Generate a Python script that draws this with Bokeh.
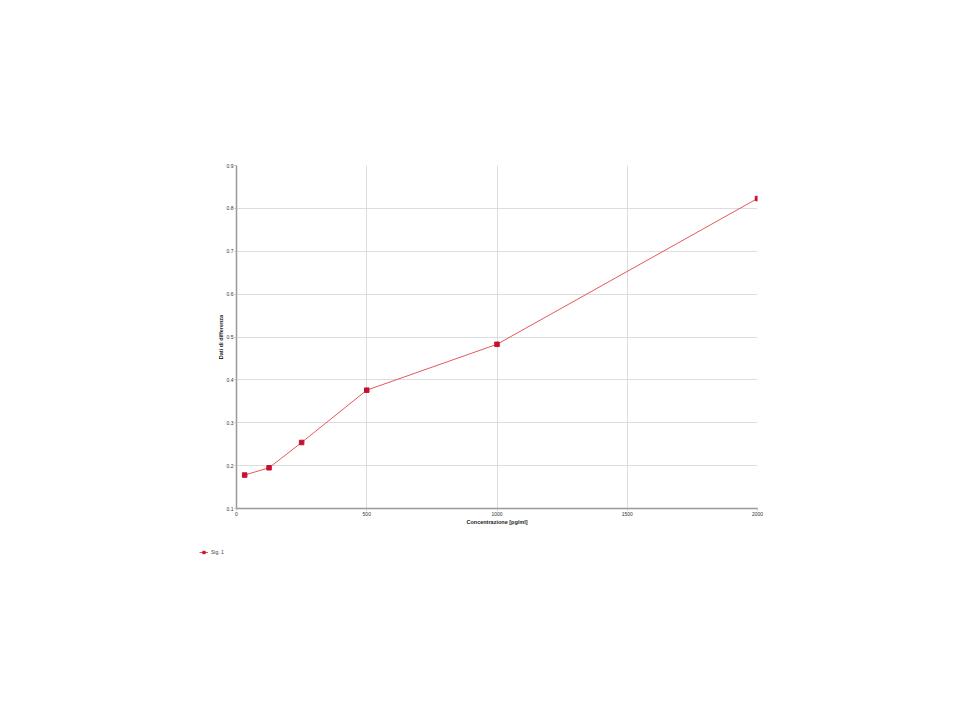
from bokeh.plotting import figure
from bokeh.models import Range1d, FixedTicker, Legend, LegendItem
from bokeh.layouts import column
from bokeh.embed import file_html
from bokeh.resources import INLINE

concentrazione = [31.25, 125, 250, 500, 1000, 2000]
differenza = [0.178, 0.195, 0.254, 0.376, 0.483, 0.823]
x_ticks = [0, 500, 1000, 1500, 2000]
y_ticks = [0.1, 0.2, 0.3, 0.4, 0.5, 0.6, 0.7, 0.8, 0.9]
serie_nome = "Sig. 1"

LINE_COLOR = "#e4595c"
MARK_COLOR = "#c8102e"

p = figure(width=944, height=540, output_backend="svg", toolbar_location=None,
           x_range=Range1d(0, 2000), y_range=Range1d(0.1, 0.9),
           min_border_left=236, min_border_right=187,
           min_border_top=165, min_border_bottom=32)
p.outline_line_color = None
p.background_fill_color = "white"
p.border_fill_color = "white"

l = p.line(concentrazione, differenza, line_color=LINE_COLOR, line_width=1)
m = p.scatter(concentrazione, differenza, marker="square", size=4.5,
              fill_color=MARK_COLOR, line_color=MARK_COLOR)

for ax in (p.xaxis[0], p.yaxis[0]):
    ax.axis_line_color = "#999999"
    ax.axis_line_width = 1.5
    ax.major_tick_line_color = "#bbbbbb"
    ax.major_tick_out = 2
    ax.major_tick_in = 0
    ax.minor_tick_line_color = None
    ax.major_label_text_font_size = "5px"
    ax.major_label_text_color = "#333333"
    ax.major_label_text_font = "Liberation Sans"
    ax.axis_label_text_font_size = "5.5px"
    ax.axis_label_text_font_style = "bold"
    ax.axis_label_text_font = "Liberation Sans"
    ax.axis_label_text_color = "#222222"
    ax.axis_label_standoff = 0
    ax.major_label_standoff = 1

p.xaxis[0].ticker = FixedTicker(ticks=x_ticks)
p.yaxis[0].ticker = FixedTicker(ticks=y_ticks)
p.xaxis[0].axis_label = "Concentrazione [pg/ml]"
p.yaxis[0].axis_label = "Dati di differenza"

p.xgrid.grid_line_color = "#dddddd"
p.ygrid.grid_line_color = "#dddddd"
p.xgrid.ticker = FixedTicker(ticks=x_ticks)
p.ygrid.ticker = FixedTicker(ticks=y_ticks)

# legend figure below the chart; shifted left so the legend sits left of the axis
lg = figure(width=944, height=40, output_backend="svg", toolbar_location=None,
            x_range=Range1d(-10, -9), y_range=Range1d(-10, -9),
            min_border_left=236, min_border_right=0,
            min_border_top=9, min_border_bottom=0,
            margin=(0, 0, 0, -37))
lg.axis.visible = False
lg.grid.visible = False
lg.outline_line_color = None
lg.background_fill_color = "white"
lg.border_fill_color = "white"
ll = lg.line(concentrazione, differenza, line_color=LINE_COLOR, line_width=1)
lm = lg.scatter(concentrazione, differenza, marker="square", size=4.5,
                fill_color=MARK_COLOR, line_color=MARK_COLOR)
legend = Legend(items=[LegendItem(label=serie_nome, renderers=[ll, lm])],
                location="top_left", padding=0, margin=0, spacing=0,
                glyph_width=9, glyph_height=6, label_height=6,
                label_standoff=3, label_text_font_size="5px",
                label_text_font="Liberation Sans",
                border_line_color=None, background_fill_alpha=0)
lg.add_layout(legend, "center")

page = column(p, lg, spacing=0)
open("out.html", "w").write(file_html(page, INLINE))
